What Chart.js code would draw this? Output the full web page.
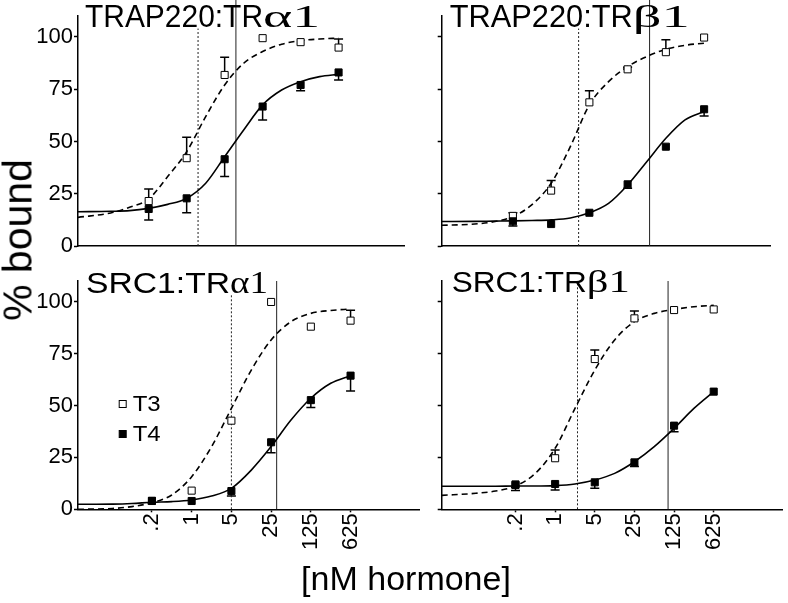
<!DOCTYPE html>
<html>
<head>
<meta charset="utf-8">
<script src="https://cdn.jsdelivr.net/npm/chart.js@4.4.1/dist/chart.umd.min.js"></script>
<style>
  body { margin: 0; background: #fff; width: 788px; height: 603px; position: relative; overflow: hidden;
         font-family: 'Liberation Sans', Arial, sans-serif; color: #000; }
  canvas { position: absolute; }
  #ylab { position: absolute; left: 18px; top: 240px; transform: translate(-50%, -50%) rotate(-90deg);
          font-size: 41px; line-height: 41px; white-space: nowrap; }
  #xlab { position: absolute; left: 406px; top: 561px; transform: translateX(-50%);
          font-size: 34px; line-height: 34px; white-space: nowrap; }
</style>
</head>
<body>
<canvas id="tl" width="410" height="262" style="left:0;top:0"></canvas>
<canvas id="tr" width="388" height="262" style="left:400px;top:0"></canvas>
<canvas id="bl" width="425" height="298" style="left:0;top:262px"></canvas>
<canvas id="br" width="388" height="298" style="left:400px;top:262px"></canvas>
<div id="ylab">% bound</div>
<div id="xlab">[nM hormone]</div>
<script>
// doses used in the assay and the axis labels
const doses = [0.2, 1, 5, 25, 125, 625];
const doseLabels = ['.2', '1', '5', '25', '125', '625'];
const curveDoses = [0.01, 0.04, 0.089, 0.2, 0.447, 1, 2.24, 5, 11.2, 25, 55.9, 125, 280, 625];
const yTicks = [0, 12.5, 25, 37.5, 50, 62.5, 75, 87.5, 100];

// TRAP220:TRa1
const trapAlphaT3 = [21.5, 42, 81.8, 99.4, 97.5, 94.9];
const trapAlphaT3Err = [5.8, 10, 8.5, 0, 0, 4.1];
const trapAlphaT4 = [17.7, 22.8, 41.5, 66.7, 77, 83];
const trapAlphaT4Err = [5.3, 6.9, 8.3, 6.4, 2.8, 3.6];
const trapAlphaT3Fit = [13.7, 15.8, 18.5, 22.5, 33.2, 45.1, 61.9, 77, 87.4, 93, 96.5, 98.2, 99, 99.4];
const trapAlphaT4Fit = [16.4, 16.6, 16.9, 18, 19.9, 22.8, 30, 42.7, 55.5, 67.5, 74.6, 78.6, 81, 82.1];
const trapAlphaEc50 = [1.62, 8.06];
const trapAlphaLineTops = [104, 118];

// TRAP220:TRb1
const trapBetaT3 = [14.4, 26.5, 68.7, 84.5, 92.7, 99.7];
const trapBetaT3Err = [1.5, 4.8, 5.5, 1, 5.9, 0];
const trapBetaT4 = [11.8, 10.5, 15.9, 29.5, 47.5, 65.4];
const trapBetaT4Err = [2.2, 0, 0, 1.9, 0, 3.2];
const trapBetaT3Fit = [9.9, 10.5, 11.6, 14, 19.8, 30, 47.5, 67.5, 78.6, 85.8, 90.6, 94.1, 96, 97];
const trapBetaT4Fit = [11.7, 11.8, 11.9, 12, 12.2, 12.5, 13.4, 15.9, 20.4, 29.2, 40.3, 51.5, 60.3, 64.3];
const trapBetaEc50 = [3.18, 63];
const trapBetaLineTops = [104, 118];

// SRC1:TRa1
const srcAlphaT3 = [4, 9, 42.7, 99.9, 88, 90.9];
const srcAlphaT3Err = [0, 0, 0, 0, 0, 5];
const srcAlphaT4 = [4.1, 4, 8.8, 32.3, 52.6, 64.4];
const srcAlphaT4Err = [0, 0, 2.4, 5, 3.6, 7.4];
const srcAlphaT3Fit = [0, 0.4, 1.3, 3.2, 6.9, 15.7, 30.2, 48.6, 67.1, 81.6, 90.4, 94.4, 95.8, 96.5];
const srcAlphaT4Fit = [2.4, 2.5, 2.8, 3.4, 3.7, 4.5, 6.4, 10.1, 18.9, 30.2, 43, 53.5, 60.7, 64.4];
const srcAlphaEc50 = [5, 31.3];
const srcAlphaLineTops = [104, 110];

// SRC1:TRb1
const srcBetaT3 = [12, 24.6, 72.4, 92, 96, 96.3];
const srcBetaT3Err = [0, 4, 4.3, 3.5, 0, 0];
const srcBetaT4 = [11.7, 12.2, 13, 22.6, 40.3, 56.7];
const srcBetaT4Err = [2.7, 2.9, 2.9, 2, 2.9, 0];
const srcBetaT3Fit = [6.7, 7.7, 8.8, 11.2, 17.3, 29.4, 48.6, 67.1, 81.6, 90.4, 94.4, 96.3, 97.6, 98.3];
const srcBetaT4Fit = [11.1, 11.1, 11.1, 11.2, 11.2, 11.4, 12.2, 14.1, 17.3, 22.9, 30.2, 39, 48.6, 56.7];
const srcBetaEc50 = [2.48, 98];
const srcBetaLineTops = [110, 110];

const SANS = "'Liberation Sans', Arial, sans-serif";
const SERIF = "'Liberation Serif', 'Times New Roman', serif";

// error bars, panel title and in-plot legend
const decor = {
    id: 'decor',
    beforeDatasetsDraw(chart, args, o) {
        const ctx = chart.ctx, xs = chart.scales.x, ys = chart.scales.y;
        ctx.save();
        ctx.strokeStyle = '#000';
        ctx.lineWidth = 1.5;
        chart.data.datasets.forEach(ds => {
            const err = ds.errUp || ds.errDown;
            if (!err) return;
            const sign = ds.errUp ? 1 : -1;
            ds.data.forEach((p, i) => {
                if (!err[i]) return;
                const px = xs.getPixelForValue(p.x);
                const py = ys.getPixelForValue(p.y);
                const pe = ys.getPixelForValue(p.y + sign * err[i]);
                ctx.beginPath();
                ctx.moveTo(px, py); ctx.lineTo(px, pe);
                ctx.moveTo(px - 4.5, pe); ctx.lineTo(px + 4.5, pe);
                ctx.stroke();
            });
        });
        ctx.restore();
    },
    afterDraw(chart, args, o) {
        const ctx = chart.ctx, area = chart.chartArea;
        ctx.save();
        ctx.fillStyle = '#000';
        ctx.textBaseline = 'alphabetic';
        let x = area.left + o.titleDx;
        const y = area.top + o.titleDy;
        o.title.forEach(p => {
            ctx.font = p.size + 'px ' + p.family;
            const w = ctx.measureText(p.text).width;
            ctx.save();
            ctx.translate(x, y);
            ctx.scale(p.width / w, 1);
            ctx.fillText(p.text, 0, 0);
            ctx.restore();
            x += p.width;
        });
        if (o.legend) {
            ctx.font = '22px ' + SANS;
            ctx.textBaseline = 'middle';
            [0, 1].forEach(i => {
                const ds = chart.data.datasets[i];
                const mx = area.left + o.legend.dx, my = area.top + o.legend.dy + i * 30;
                ctx.fillStyle = ds.pointBackgroundColor;
                ctx.fillRect(mx - 3.5, my - 3.5, 7, 7);
                ctx.strokeStyle = '#000';
                ctx.lineWidth = 1;
                ctx.strokeRect(mx - 3.5, my - 3.5, 7, 7);
                ctx.fillStyle = '#000';
                const w = ctx.measureText(ds.label).width;
                ctx.save();
                ctx.translate(mx + 10, my + 1);
                ctx.scale(28 / w, 1);
                ctx.fillText(ds.label, 0, 0);
                ctx.restore();
            });
        }
        ctx.restore();
    }
};

function curve(values, dash) {
    return {
        type: 'line',
        data: curveDoses.map((x, i) => ({ x: x, y: values[i] })),
        showLine: true,
        borderColor: '#000',
        borderWidth: 1.6,
        borderDash: dash,
        pointRadius: 0,
        tension: 0.4,
        cubicInterpolationMode: 'monotone',
        fill: false,
        order: 2
    };
}

function marker(value, top, dash) {
    return {
        type: 'line',
        data: [{ x: value, y: 0 }, { x: value, y: top }],
        showLine: true,
        borderColor: '#222',
        borderWidth: 1,
        borderDash: dash,
        pointRadius: 0,
        clip: false,
        order: 3
    };
}

function makePanel(id, p) {
    const ctx = document.getElementById(id).getContext('2d');
    return new Chart(ctx, {
        type: 'scatter',
        data: {
            datasets: [
                {
                    label: 'T3',
                    data: doses.map((x, i) => ({ x: x, y: p.t3[i] })),
                    pointStyle: 'rect', pointRadius: 5,
                    pointBackgroundColor: '#fff', pointBorderColor: '#000', pointBorderWidth: 1,
                    errUp: p.t3Err, order: 1
                },
                {
                    label: 'T4',
                    data: doses.map((x, i) => ({ x: x, y: p.t4[i] })),
                    pointStyle: 'rect', pointRadius: 5,
                    pointBackgroundColor: '#000', pointBorderColor: '#000', pointBorderWidth: 1,
                    errDown: p.t4Err, order: 0
                },
                curve(p.t3Fit, [6, 4]),
                curve(p.t4Fit, []),
                marker(p.ec50[0], p.tops[0], [2, 2]),
                marker(p.ec50[1], p.tops[1], [])
            ]
        },
        options: {
            responsive: false,
            animation: false,
            devicePixelRatio: 1,
            events: [],
            layout: { padding: p.padding },
            plugins: {
                legend: { display: false },
                tooltip: { enabled: false },
                decor: { title: p.title, titleDx: p.titleDx, titleDy: p.titleDy, legend: p.legend }
            },
            scales: {
                x: {
                    type: 'logarithmic',
                    min: 0.01, max: 10000,
                    afterBuildTicks: s => { s.ticks = doses.map(v => ({ value: v })); },
                    afterFit: s => { s.height = p.xAxisH; },
                    ticks: {
                        display: p.showX, autoSkip: false, minRotation: 90, maxRotation: 90,
                        padding: 1, color: '#000', font: { family: SANS, size: 22 },
                        callback: (v, i) => doseLabels[i]
                    },
                    grid: { drawOnChartArea: false, drawTicks: p.showX, tickLength: 3, tickColor: '#000', tickWidth: 1.5 },
                    border: { display: true, color: '#000', width: 1.5 }
                },
                y: {
                    min: 0, max: 110,
                    afterBuildTicks: s => { s.ticks = yTicks.map(v => ({ value: v })); },
                    afterFit: s => { s.width = p.yAxisW; },
                    ticks: {
                        padding: 1, color: '#000', font: { family: SANS, size: 22 },
                        callback: v => (p.showY && v % 25 === 0) ? String(v) : ''
                    },
                    grid: { drawOnChartArea: false, tickLength: 4, tickColor: '#000', tickWidth: 1.5 },
                    border: { display: true, color: '#000', width: 1.5 }
                }
            }
        },
        plugins: [decor]
    });
}

makePanel('tl', {
    t3: trapAlphaT3, t3Err: trapAlphaT3Err, t4: trapAlphaT4, t4Err: trapAlphaT4Err,
    t3Fit: trapAlphaT3Fit, t4Fit: trapAlphaT4Fit, ec50: trapAlphaEc50, tops: trapAlphaLineTops,
    padding: { left: 0, right: 6, top: 16, bottom: 0 }, yAxisW: 78, xAxisH: 16,
    showX: false, showY: true,
    title: [{ text: 'TRAP220:TR', family: SANS, size: 31, width: 178 },
            { text: 'α1', family: SERIF, size: 32, width: 57 }],
    titleDx: 7, titleDy: 11
});
makePanel('tr', {
    t3: trapBetaT3, t3Err: trapBetaT3Err, t4: trapBetaT4, t4Err: trapBetaT4Err,
    t3Fit: trapBetaT3Fit, t4Fit: trapBetaT4Fit, ec50: trapBetaEc50, tops: trapBetaLineTops,
    padding: { left: 0, right: 18, top: 16, bottom: 0 }, yAxisW: 41.7, xAxisH: 16,
    showX: false, showY: false,
    title: [{ text: 'TRAP220:TR', family: SANS, size: 31, width: 183 },
            { text: 'β1', family: SERIF, size: 32, width: 57 }],
    titleDx: 8, titleDy: 11
});
makePanel('bl', {
    t3: srcAlphaT3, t3Err: srcAlphaT3Err, t4: srcAlphaT4, t4Err: srcAlphaT4Err,
    t3Fit: srcAlphaT3Fit, t4Fit: srcAlphaT4Fit, ec50: srcAlphaEc50, tops: srcAlphaLineTops,
    padding: { left: 0, right: 4, top: 19, bottom: 0 }, yAxisW: 78, xAxisH: 50.7,
    showX: true, showY: true,
    title: [{ text: 'SRC1:TR', family: SANS, size: 30, width: 144 },
            { text: 'α1', family: SERIF, size: 31, width: 38 }],
    titleDx: 8, titleDy: 12,
    legend: { dx: 44.7, dy: 123 }
});
makePanel('br', {
    t3: srcBetaT3, t3Err: srcBetaT3Err, t4: srcBetaT4, t4Err: srcBetaT4Err,
    t3Fit: srcBetaT3Fit, t4Fit: srcBetaT4Fit, ec50: srcBetaEc50, tops: srcBetaLineTops,
    padding: { left: 0, right: 2, top: 19, bottom: 0 }, yAxisW: 41.7, xAxisH: 50.7,
    showX: true, showY: false,
    title: [{ text: 'SRC1:TR', family: SANS, size: 30, width: 135 },
            { text: 'β1', family: SERIF, size: 31, width: 43 }],
    titleDx: 10, titleDy: 11
});
</script>
</body>
</html>
